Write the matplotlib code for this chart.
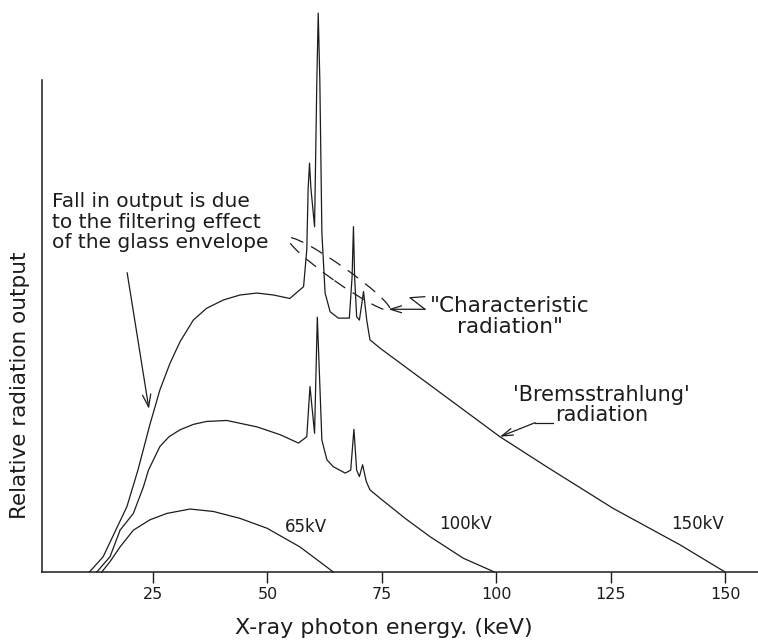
import matplotlib
matplotlib.use("Agg")
import matplotlib.pyplot as plt
from matplotlib.patches import Ellipse
from matplotlib.transforms import ScaledTranslation

# ---------------------------------------------------------------- data
# photon energy (keV) and relative output
e_65 = [13.8, 15.6, 17.8, 20.7, 24.3, 28.0, 33.1, 38.2, 44.0, 49.9, 57.1, 64.4]
y_65 = [0.0, 2.1, 5.1, 8.5, 10.6, 11.9, 12.8, 12.3, 10.9, 8.9, 5.1, 0.0]

e_100 = [12.7, 15.6, 17.8, 20.7, 22.9, 24.0, 26.5, 28.5, 30.9, 33.8, 36.7, 41.1,
         47.7, 52.8, 56.8, 58.6, 59.3, 60.3, 60.9, 61.9, 63.0, 64.4, 67.0,
         68.2, 68.9, 69.5, 70.1, 70.8, 71.6, 72.4, 74.6, 80.1, 85.5, 92.8, 99.6]
y_100 = [0.0, 3.1, 8.5, 11.9, 17.3, 20.7, 25.5, 27.5, 28.9, 30.0, 30.6, 30.8,
         29.5, 27.9, 26.2, 27.5, 37.7, 28.2, 51.8, 26.8, 22.8, 21.4, 20.1,
         20.7, 29.0, 20.7, 19.4, 21.8, 18.4, 16.7, 15.0, 10.9, 7.2, 2.8, 0.0]

e_150 = [11.1, 14.1, 19.3, 21.7, 24.3, 26.5, 28.7, 30.9, 33.8, 36.7, 40.4,
         44.0, 47.7, 51.3, 54.9, 57.9, 58.6, 58.9, 59.2, 59.5, 60.3, 60.8,
         61.1, 61.45, 61.9, 62.6, 63.7, 65.5, 67.9, 68.5, 68.8, 69.05, 69.5,
         70.1, 71.0, 71.7, 72.4, 74.6, 100.8, 111.0, 125.6, 140.2, 150.0]
y_150 = [0.0, 3.1, 13.3, 20.7, 29.9, 37.0, 42.4, 46.8, 51.2, 53.6, 55.3,
         56.3, 56.7, 56.3, 55.6, 58.0, 65.5, 78.0, 83.1, 78.0, 70.2, 100.0,
         113.6, 100.0, 68.9, 56.7, 52.9, 51.6, 51.6, 60.0, 70.2, 60.0, 51.9,
         51.2, 57.0, 51.2, 47.2, 45.5, 27.5, 21.4, 12.9, 5.5, 0.0]

kv_labels = ["65kV", "100kV", "150kV"]
kv_pos_e = [58.4, 93.3, 144.0]
kv_pos_y = [9.2, 9.8, 9.8]

xticks = [25, 50, 75, 100, 125, 150]

# annotation anchor points (keV, relative output)
fall_from, fall_to = (19.25, 61.4), (24.2, 32.6)
brems_tip, brems_knee, brems_end = (100.8, 27.5), (108.5, 30.35), (112.4, 30.35)
char_path_e = [84.37, 81.16, 84.44, 76.42]
char_path_y = [55.96, 55.75, 53.4, 53.4]
ellipse_c = (65.65, 60.57)

INK = "#1c1c1c"
plt.rcParams["font.family"] = ["DejaVu Sans"]

# ---------------------------------------------------------------- figure
fig = plt.figure(figsize=(7.58, 6.41), dpi=100)
ax = fig.add_axes([42 / 758, (641 - 572) / 641, 1 - 42 / 758, (572 - 80) / 641])

for e, y in ((e_65, y_65), (e_100, y_100), (e_150, y_150)):
    ax.plot(e, y, color=INK, lw=0.9, clip_on=False, solid_joinstyle="round")

ax.set_xlim(0.74, 157.2)
ax.set_ylim(0, 100)
ax.spines[["top", "right"]].set_visible(False)
for s in ("left", "bottom"):
    ax.spines[s].set_linewidth(1.1)
    ax.spines[s].set_color(INK)
ax.set_yticks([])
ax.set_xticks(xticks)
ax.tick_params(axis="x", direction="out", length=8, width=1, color=INK,
               labelsize=11.5, labelcolor=INK, pad=3)

fig.text(384 / 758, (641 - 634) / 641, "X-ray photon energy. (keV)",
         ha="center", va="baseline", fontsize=16, color=INK)
fig.text(20 / 758, (641 - 385) / 641, "Relative radiation output",
         ha="center", va="center", rotation=90, fontsize=15.5, color=INK)

for lab, e, y in zip(kv_labels, kv_pos_e, kv_pos_y):
    ax.text(e, y, lab, ha="center", va="center", fontsize=12, color=INK)

# filtering note
ax.text(2.9, 71.1, "Fall in output is due\nto the filtering effect\nof the glass envelope",
        ha="left", va="center", fontsize=14.5, color=INK, linespacing=1.1)
ax.annotate("", xy=fall_to, xytext=fall_from,
            arrowprops=dict(arrowstyle="->,head_length=0.9,head_width=0.3",
                            color=INK, lw=0.9))

# characteristic radiation
ell = Ellipse((0, 0), 1.244, 0.16, angle=-35.2, fill=False, ec=INK, lw=0.9,
              ls=(0, (10.5, 7)),
              transform=fig.dpi_scale_trans + ScaledTranslation(*ellipse_c, ax.transData))
ax.add_patch(ell)
ax.plot(char_path_e[:3], char_path_y[:3], color=INK, lw=0.9)
ax.annotate("", xy=(char_path_e[3], char_path_y[3]), xytext=(char_path_e[2], char_path_y[2]),
            arrowprops=dict(arrowstyle="->,head_length=0.8,head_width=0.25",
                            color=INK, lw=0.9, shrinkA=0, shrinkB=0))
ax.text(103.0, 51.9, "\"Characteristic\nradiation\"", ha="center", va="center",
        fontsize=15.5, color=INK, linespacing=1.1)

# bremsstrahlung
ax.plot([brems_knee[0], brems_end[0]], [brems_knee[1], brems_end[1]], color=INK, lw=0.9)
ax.annotate("", xy=brems_tip, xytext=brems_knee,
            arrowprops=dict(arrowstyle="->,head_length=0.8,head_width=0.25",
                            color=INK, lw=0.9, shrinkA=0, shrinkB=0))
ax.text(123.0, 33.9, "'Bremsstrahlung'\nradiation", ha="center", va="center",
        fontsize=15, color=INK, linespacing=1.0)

fig.savefig("out.png", dpi=100)
